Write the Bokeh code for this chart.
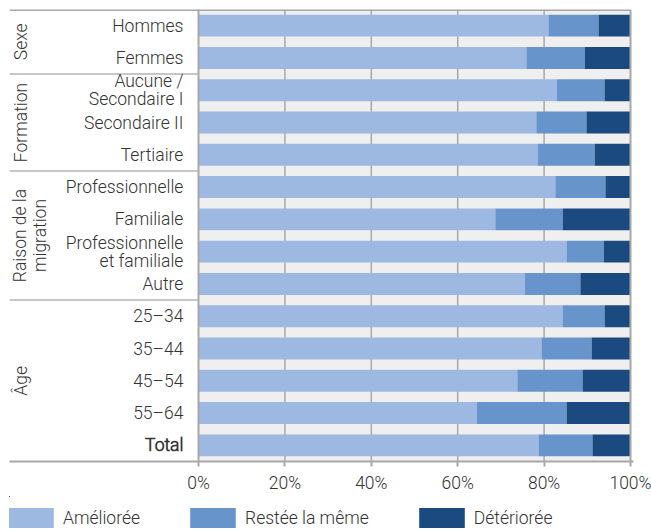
import math
from bokeh.plotting import figure
from bokeh.layouts import column
from bokeh.models import (ColumnDataSource, Range1d, FixedTicker, PrintfTickFormatter,
                          Legend, LegendItem)
from bokeh.core.properties import value
from bokeh.embed import file_html
from bokeh.resources import INLINE

# ---------------- data ----------------
categories = ["Hommes", "Femmes",
              "Aucune /\nSecondaire I", "Secondaire II", "Tertiaire",
              "Professionnelle", "Familiale", "Professionnelle\net familiale", "Autre",
              "25\u201334", "35\u201344", "45\u201354", "55\u201364", "Total"]
ameliore = [81.0, 75.9, 82.9, 78.2, 78.5, 82.6, 68.7, 85.2, 75.5, 84.3, 79.4, 73.8, 64.4, 78.7]
restee = [11.6, 13.5, 11.1, 11.6, 13.2, 11.6, 15.6, 8.6, 12.9, 9.7, 11.6, 15.1, 20.8, 12.5]
deteriore = [7.4, 10.6, 6.0, 10.2, 8.3, 5.8, 15.7, 6.2, 11.6, 6.0, 9.0, 11.1, 14.8, 8.8]
series_names = ["Am\u00e9lior\u00e9e", "Rest\u00e9e la m\u00eame", "D\u00e9t\u00e9rior\u00e9e"]
groups = ["Sexe", "Formation", "Raison de la\nmigration", "\u00c2ge"]
group_sizes = [2, 3, 4, 5]
x_ticks = [0, 20, 40, 60, 80, 100]

# ---------------- style ----------------
COLORS = ["#9DB9E1", "#6894CC", "#1B4A80"]
BG = "#EFEFEF"
GRID = "#A8A8A8"
SEP = "#B4B4B4"
TXT = "#333333"
FONT = "Roboto Light"
FS = "17.5px"
X0 = -43.75

n = len(categories)
ypos = [i + 0.5 for i in range(n)]
styles = ["bold" if c == "Total" else "normal" for c in categories]

src = ColumnDataSource(dict(y=ypos, cat=categories, style=styles,
                            a=ameliore, r=restee, d=deteriore))

p = figure(width=651, height=496,
           x_range=Range1d(X0, 100.69), y_range=Range1d(n, 0),
           y_axis_location=None, toolbar_location=None, output_backend="svg",
           min_border_left=9, min_border_right=18, min_border_top=9, min_border_bottom=35)
p.outline_line_color = None
p.xgrid.visible = False
p.ygrid.visible = False
p.background_fill_color = "white"
p.border_fill_color = "white"

# plot background for the bar region
p.quad(left=[0], right=[100], top=[0], bottom=[n], fill_color=BG, line_color=None)
# vertical gridlines
inner = [t for t in x_ticks if 0 < t < 100]
p.segment(x0=inner, x1=inner, y0=[0]*len(inner), y1=[n]*len(inner),
          line_color=GRID, line_width=1.5)

renderers = p.hbar_stack(["a", "r", "d"], y="y", height=0.68, color=COLORS,
                         line_color=None, source=src)

# borders: top line across, left and right of bar region
p.segment(x0=[X0], x1=[100], y0=[0], y1=[0], line_color=GRID, line_width=3)
p.segment(x0=[0, 100], x1=[0, 100], y0=[0, 0], y1=[n, n], line_color=GRID, line_width=2)

# group separators in label area
bounds = []
acc = 0
for s in group_sizes[:-1]:
    acc += s
    bounds.append(acc)
p.segment(x0=[X0]*len(bounds), x1=[0]*len(bounds), y0=bounds, y1=bounds,
          line_color=SEP, line_width=1.5)

# category labels
p.text(x=-3.5, y="y", text="cat", source=src, text_align="right", text_baseline="middle",
       text_font=value(FONT), text_font_size=FS, text_color=TXT,
       text_font_style="style", text_line_height=0.9)

# group labels (rotated)
gy = []
acc = 0
for s in group_sizes:
    gy.append(acc + s / 2)
    acc += s
gx = [-41.0 + 2.1 * (g.count("\n")) for g in groups]
p.text(x=gx, y=gy, text=groups, angle=math.pi / 2, text_align="center",
       text_baseline="middle", text_font=value(FONT), text_font_size=FS,
       text_color=TXT, text_line_height=1.0)

# x axis
ax = p.xaxis[0]
ax.ticker = FixedTicker(ticks=x_ticks)
ax.formatter = PrintfTickFormatter(format="%d%%")
ax.axis_line_color = GRID
ax.axis_line_width = 2
ax.major_tick_line_color = GRID
ax.major_tick_line_width = 2
ax.major_tick_out = 5
ax.major_tick_in = 0
ax.minor_tick_line_color = None
ax.major_label_standoff = 6
ax.major_label_text_font = FONT
ax.major_label_text_font_size = FS
ax.major_label_text_color = TXT

# ---------------- legend strip ----------------
# same stacked bars, placed far outside this strip's visible ranges, so only the legend shows
leg = figure(width=651, height=36, x_range=Range1d(1000, 1100), y_range=Range1d(-200, -100),
             x_axis_location=None, y_axis_location=None, toolbar_location=None,
             output_backend="svg", min_border=0)
leg.outline_line_color = None
leg.xgrid.visible = False
leg.ygrid.visible = False
leg_renderers = leg.hbar_stack(["a", "r", "d"], y="y", height=0.68, color=COLORS,
                               line_color=None, source=src)
legend = Legend(items=[LegendItem(label=nm, renderers=[r]) for nm, r in zip(series_names, leg_renderers)],
                orientation="horizontal", location=(-7, 2),
                glyph_width=57, glyph_height=25, label_standoff=4, spacing=44,
                padding=0, margin=0, border_line_color=None, background_fill_alpha=0,
                label_text_font=FONT, label_text_font_size=FS, label_text_color=TXT)
leg.add_layout(legend)

open("out.html", "w").write(file_html(column(p, leg, spacing=0), INLINE))
